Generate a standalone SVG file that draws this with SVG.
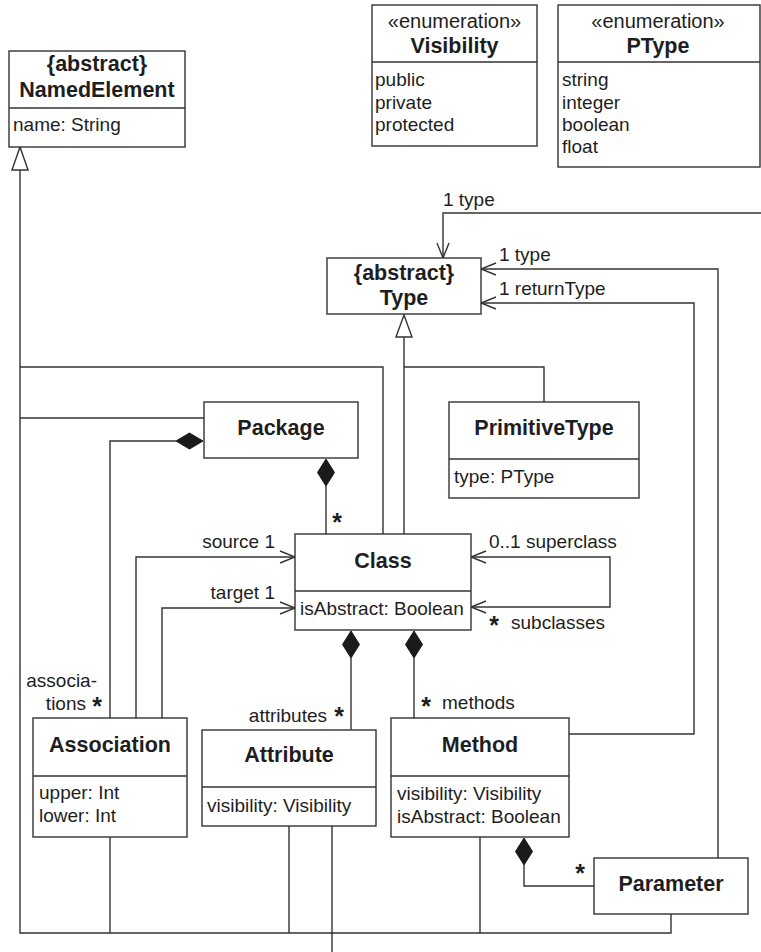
<svg xmlns="http://www.w3.org/2000/svg" width="761" height="952" viewBox="0 0 761 952">
<style>
.box{fill:#fff;stroke:#333;stroke-width:1.4}
.ln{fill:none;stroke:#333;stroke-width:1.4}
.dia{fill:#1a1a1a;stroke:#1a1a1a;stroke-width:1}
.tri{fill:#fff;stroke:#333;stroke-width:1.4}
text{font-family:"Liberation Sans",Arial,Helvetica,sans-serif;fill:#1e1e1e}
.t{font-size:21.5px;font-weight:bold;text-anchor:middle}
.st{font-size:20px;text-anchor:middle}
.a{font-size:19px}
.lb{font-size:19px}
.e{text-anchor:end}
.ast{font-size:25px;font-weight:bold;text-anchor:middle}
</style>
<defs>
<marker id="open" viewBox="-16 -8 18 16" refX="0" refY="0" markerWidth="18" markerHeight="16" markerUnits="userSpaceOnUse" orient="auto-start-reverse">
<path d="M-15,-6 L0,0 L-15,6" fill="none" stroke="#333" stroke-width="1.4"/>
</marker>
</defs>

<g id="connectors">
<!-- NamedElement generalization tree -->
<path class="ln" d="M20,170 V933 H671 V914"/>
<path class="ln" d="M20,367 H383 V534"/>
<path class="ln" d="M20,418 H204"/>
<path class="ln" d="M110,933 V837"/>
<path class="ln" d="M289,933 V826"/>
<path class="ln" d="M480,933 V837"/>
<polygon class="tri" points="20,147 12,170 28,170"/>
<!-- Type generalization tree -->
<path class="ln" d="M404,337 V534"/>
<path class="ln" d="M404,367 H544 V402"/>
<polygon class="tri" points="404,315 396,337 412,337"/>
<!-- Package compositions -->
<path class="ln" d="M176,441 H110 V718"/>
<polygon class="dia" points="203,441 189.5,433 176,441 189.5,449"/>
<path class="ln" d="M326,486 V534"/>
<polygon class="dia" points="326,459 317.5,472.5 326,486 334.5,472.5"/>
<!-- Association source / target -->
<path class="ln" d="M136,718 V557 H295" marker-end="url(#open)"/>
<path class="ln" d="M162,718 V608 H295" marker-end="url(#open)"/>
<!-- superclass / subclasses -->
<path class="ln" d="M471,557 H610 V607 H471" marker-start="url(#open)" marker-end="url(#open)"/>
<!-- Class compositions -->
<path class="ln" d="M351,658 V730"/>
<polygon class="dia" points="351,631 342.5,644.5 351,658 359.5,644.5"/>
<path class="ln" d="M414,658 V718"/>
<polygon class="dia" points="414,631 405.5,644.5 414,658 422.5,644.5"/>
<!-- Method - Parameter composition -->
<path class="ln" d="M524,865 V886 H594"/>
<polygon class="dia" points="524,838 515.5,851.5 524,865 532.5,851.5"/>
<!-- type associations -->
<path class="ln" d="M569,734 H694 V303 H481" marker-end="url(#open)"/>
<path class="ln" d="M718,858 V269 H481" marker-end="url(#open)"/>
<path class="ln" d="M761,213 H443 V258" marker-end="url(#open)"/>
<path class="ln" d="M332,826 V952"/>
<!-- labels -->
<text class="lb" x="443" y="206">1 type</text>
<text class="lb" x="499" y="261">1 type</text>
<text class="lb" x="499" y="295">1 returnType</text>
<text class="ast" x="337" y="531">*</text>
<text class="lb e" x="275" y="548">source 1</text>
<text class="lb e" x="275" y="599">target 1</text>
<text class="lb" x="489" y="548">0..1 superclass</text>
<text class="ast" x="494" y="634">*</text>
<text class="lb" x="511" y="629">subclasses</text>
<text class="lb e" x="97" y="687">associa-</text>
<text class="lb e" x="86" y="710">tions</text>
<text class="ast" x="97" y="715">*</text>
<text class="lb e" x="327" y="722">attributes</text>
<text class="ast" x="339" y="725">*</text>
<text class="ast" x="426" y="715">*</text>
<text class="lb" x="442" y="709">methods</text>
<text class="ast" x="580" y="882">*</text>
</g>

<g id="NamedElement">
<rect class="box" x="9" y="51" width="176" height="96"/>
<line class="ln" x1="9" y1="108" x2="185" y2="108"/>
<text class="t" x="97" y="71">{abstract}</text>
<text class="t" x="97" y="97">NamedElement</text>
<text class="a" x="13" y="131">name: String</text>
</g>

<g id="Visibility">
<rect class="box" x="372" y="5" width="165" height="141"/>
<line class="ln" x1="372" y1="62" x2="537" y2="62"/>
<text class="st" x="454.5" y="28">«enumeration»</text>
<text class="t" x="454.5" y="53">Visibility</text>
<text class="a" x="375" y="86">public</text>
<text class="a" x="375" y="108.5">private</text>
<text class="a" x="375" y="131">protected</text>
</g>

<g id="PType">
<rect class="box" x="558" y="5" width="202" height="162"/>
<line class="ln" x1="558" y1="62" x2="760" y2="62"/>
<text class="st" x="658" y="28">«enumeration»</text>
<text class="t" x="658" y="53">PType</text>
<text class="a" x="562" y="86">string</text>
<text class="a" x="562" y="108.5">integer</text>
<text class="a" x="562" y="131">boolean</text>
<text class="a" x="562" y="153">float</text>
</g>

<g id="Type">
<rect class="box" x="327" y="258" width="154" height="56"/>
<text class="t" x="404" y="280">{abstract}</text>
<text class="t" x="404" y="305">Type</text>
</g>

<g id="Package">
<rect class="box" x="204" y="402" width="154" height="56"/>
<text class="t" x="281" y="435">Package</text>
</g>

<g id="PrimitiveType">
<rect class="box" x="449" y="402" width="190" height="96"/>
<line class="ln" x1="449" y1="459" x2="639" y2="459"/>
<text class="t" x="544" y="435">PrimitiveType</text>
<text class="a" x="454" y="483">type: PType</text>
</g>

<g id="Class">
<rect class="box" x="295" y="534" width="176" height="96"/>
<line class="ln" x1="295" y1="591" x2="471" y2="591"/>
<text class="t" x="383" y="568">Class</text>
<text class="a" x="300" y="615">isAbstract: Boolean</text>
</g>

<g id="Association">
<rect class="box" x="33" y="718" width="154" height="119"/>
<line class="ln" x1="33" y1="776" x2="187" y2="776"/>
<text class="t" x="110" y="752">Association</text>
<text class="a" x="39" y="799">upper: Int</text>
<text class="a" x="39" y="822">lower: Int</text>
</g>

<g id="Attribute">
<rect class="box" x="202" y="730" width="174" height="96"/>
<line class="ln" x1="202" y1="787" x2="376" y2="787"/>
<text class="t" x="289" y="762">Attribute</text>
<text class="a" x="207" y="812">visibility: Visibility</text>
</g>

<g id="Method">
<rect class="box" x="391" y="718" width="178" height="119"/>
<line class="ln" x1="391" y1="776" x2="569" y2="776"/>
<text class="t" x="480" y="752">Method</text>
<text class="a" x="397" y="800">visibility: Visibility</text>
<text class="a" x="397" y="823">isAbstract: Boolean</text>
</g>

<g id="Parameter">
<rect class="box" x="594" y="858" width="154" height="56"/>
<text class="t" x="671" y="891">Parameter</text>
</g>
</svg>
